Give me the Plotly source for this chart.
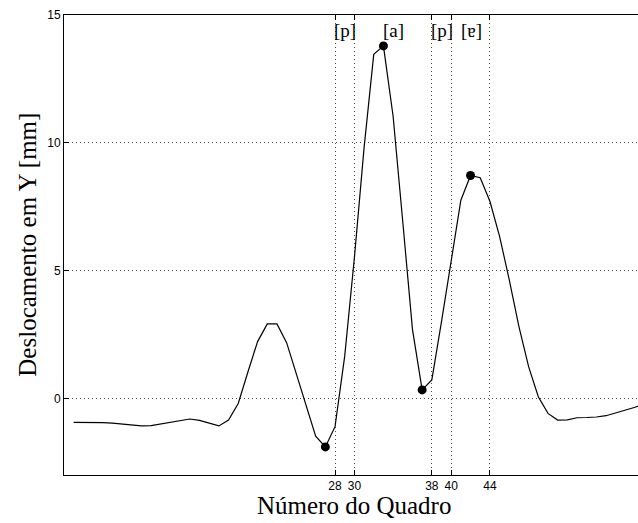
import plotly.graph_objects as go

frames = list(range(1, 61))
disp_y = [-0.94, -0.94, -0.94, -0.95, -0.97, -1.00, -1.04, -1.08, -1.07, -1.00,
          -0.93, -0.85, -0.81, -0.86, -0.97, -1.08, -0.85, -0.20, 1.03, 2.22,
          2.91, 2.91, 2.18, 0.93, -0.31, -1.48, -1.90, -1.11, 1.65, 5.50,
          9.80, 13.46, 13.79, 11.04, 6.90, 2.70, 0.33, 0.72, 3.00, 5.42,
          7.75, 8.72, 8.63, 7.71, 6.34, 4.64, 2.81, 1.24, 0.06, -0.59,
          -0.85, -0.84, -0.76, -0.75, -0.73, -0.68, -0.57, -0.45, -0.35, -0.20]

marker_frames = [27, 33, 37, 42]
marker_y = [disp_y[f - 1] for f in marker_frames]

xtick_vals = [28, 30, 38, 40, 44]
ytick_vals = [0, 5, 10, 15]

phone_labels = ["[p]", "[a]", "[p]", "[ɐ]"]
phone_x = [29, 34, 39.05, 42.1]

fig = go.Figure()
fig.add_trace(go.Scatter(x=frames, y=disp_y, mode="lines",
                         line=dict(color="black", width=1.2), showlegend=False,
                         hoverinfo="skip"))
fig.add_trace(go.Scatter(x=marker_frames, y=marker_y, mode="markers",
                         marker=dict(color="black", size=9), showlegend=False))

for lbl, xv in zip(phone_labels, phone_x):
    fig.add_annotation(x=xv, y=14.4, text=lbl, showarrow=False,
                       font=dict(family="Liberation Serif, DejaVu Serif", size=19, color="black"),
                       xanchor="center", yanchor="middle")

fig.add_annotation(x=0.505, y=-0.067, xref="paper", yref="paper",
                   text="Número do Quadro", showarrow=False,
                   font=dict(family="Liberation Serif", size=25, color="black"),
                   xanchor="center", yanchor="middle")
fig.add_annotation(x=-0.065, y=0.5, xref="paper", yref="paper",
                   text="Deslocamento em Y [mm]", showarrow=False, textangle=-90,
                   font=dict(family="Liberation Serif", size=25, color="black"),
                   xanchor="center", yanchor="middle")

grid = dict(showgrid=True, gridcolor="rgba(0,0,0,0.7)", gridwidth=1, griddash="1px,3px")

fig.update_xaxes(range=[0, 59.3], tickvals=xtick_vals,
                 ticks="inside", ticklen=5, tickcolor="black",
                 showline=True, linecolor="black", linewidth=1, mirror="ticks",
                 zeroline=False,
                 tickfont=dict(family="Liberation Sans", size=12, color="black"),
                 **grid)
fig.update_yaxes(range=[-3, 15], tickvals=ytick_vals,
                 ticks="inside", ticklen=5, tickcolor="black",
                 showline=True, linecolor="black", linewidth=1, mirror=False,
                 zeroline=False,
                 tickfont=dict(family="Liberation Sans", size=12, color="black"),
                 **grid)

fig.update_layout(width=638, height=523,
                  margin=dict(l=64, r=0, t=15, b=48),
                  plot_bgcolor="white", paper_bgcolor="white",
                  showlegend=False)

fig.write_html("out.html")
